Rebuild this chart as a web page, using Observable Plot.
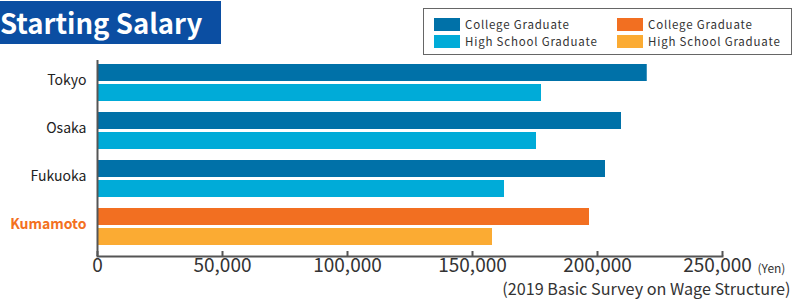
<!DOCTYPE html>
<html><head><meta charset="utf-8">
<script src="https://cdn.jsdelivr.net/npm/d3@7"></script>
<script src="https://cdn.jsdelivr.net/npm/@observablehq/plot@0.6"></script>
<style>
html,body{margin:0;padding:0;background:#fff;}
#wrap{position:relative;width:805px;height:307px;overflow:hidden;font-family:"Noto Sans CJK JP","Noto Sans",sans-serif;}
#chart{position:absolute;left:0;top:0;}
#title{position:absolute;left:0;top:1px;width:221px;height:43px;background:#0b4ea2;color:#fff;font-weight:700;font-size:27.5px;line-height:43px;white-space:nowrap;overflow:hidden;}
#title span{position:relative;left:0px;}
#legend{position:absolute;left:423px;top:8px;width:369px;height:47px;border:1px solid #666;box-sizing:border-box;}
.sw{position:absolute;width:26px;height:13px;}
.lt{position:absolute;font-size:11.5px;letter-spacing:0.8px;color:#333;line-height:13px;white-space:nowrap;}
</style></head>
<body>
<div id="wrap">
  <div id="chart"></div>
  <div id="title"><span>Starting Salary</span></div>
  <div id="legend"></div>
</div>
<script>
const cities = ["Tokyo", "Osaka", "Fukuoka", "Kumamoto"];
const collegeSalary = [219900, 209600, 203200, 196800];
const highSchoolSalary = [177600, 175600, 162800, 158000];
const xTicks = [0, 50000, 100000, 150000, 200000, 250000];
const legendLabels = ["College Graduate", "High School Graduate", "College Graduate", "High School Graduate"];
const titleText = "Starting Salary";
const unitText = "(Yen)";
const captionText = "(2019 Basic Survey on Wage Structure)";

const colors = {
  college: "#0071a8", high: "#00abd8",
  kCollege: "#f26f21", kHigh: "#fbab33",
  label: "#222222", kLabel: "#f37021", axis: "#555555"
};

const rows = cities.map((c, i) => ({
  city: c,
  college: collegeSalary[i],
  high: highSchoolSalary[i],
  local: c === "Kumamoto"
}));

const font = '"Noto Sans CJK JP","Noto Sans",sans-serif';
const fmt = d3.format(",");

const chart = Plot.plot({
  width: 805,
  height: 307,
  marginTop: 60,
  marginBottom: 51,
  marginLeft: 97,
  marginRight: 83,
  style: {fontFamily: font, background: "transparent", overflow: "visible"},
  color: {type: "identity"},
  x: {domain: [0, 250000], axis: null},
  y: {domain: cities, range: [64, 245], paddingInner: 11 / 48, paddingOuter: 0, axis: null},
  marks: [
    Plot.barX(rows, {x: "college", y: "city", fill: d => d.local ? colors.kCollege : colors.college, insetBottom: 20}),
    Plot.barX(rows, {x: "high", y: "city", fill: d => d.local ? colors.kHigh : colors.high, insetTop: 20}),
    Plot.ruleX([0], {stroke: colors.axis, strokeWidth: 2}),
    Plot.frame({anchor: "bottom", stroke: colors.axis, strokeWidth: 2}),
    Plot.ruleX(xTicks, {x: d => d, stroke: colors.axis, strokeWidth: 2, insetTop: 191}),
    Plot.text(xTicks.slice(0, -1), {x: d => d, frameAnchor: "bottom", dy: 15, text: d => fmt(d), fontSize: 19, fill: "#333"}),
    Plot.text(xTicks.slice(-1), {x: d => d, frameAnchor: "bottom", dy: 15, dx: -5, text: d => fmt(d), fontSize: 19, fill: "#333"}),
    Plot.text(rows.filter(d => !d.local), {y: "city", frameAnchor: "left", textAnchor: "end", dx: -11, dy: -2, text: "city",
      fill: colors.label, fontSize: 14, letterSpacing: 0.5}),
    Plot.text(rows.filter(d => d.local), {y: "city", frameAnchor: "left", textAnchor: "end", dx: -11, dy: -2, text: "city",
      fill: colors.kLabel, fontWeight: 700, fontSize: 14, letterSpacing: 0.5}),
    Plot.text([unitText], {frameAnchor: "bottom-right", textAnchor: "start", dx: 35, dy: 16, fontSize: 12, fill: "#333"}),
    Plot.text([captionText], {frameAnchor: "bottom-right", textAnchor: "end", dx: 68, dy: 38, fontSize: 16.2, fill: "#333"})
  ]
});
document.getElementById("chart").appendChild(chart);

// legend
const legend = document.getElementById("legend");
const legendColors = [colors.college, colors.high, colors.kCollege, colors.kHigh];
const pos = [[10, 9], [10, 26], [193, 9], [193, 26]];
legendLabels.forEach((t, i) => {
  const sw = document.createElement("div");
  sw.className = "sw";
  sw.style.left = pos[i][0] + "px";
  sw.style.top = pos[i][1] + "px";
  sw.style.background = legendColors[i];
  legend.appendChild(sw);
  const lt = document.createElement("div");
  lt.className = "lt";
  lt.style.left = (pos[i][0] + 31) + "px";
  lt.style.top = pos[i][1] + "px";
  lt.textContent = t;
  legend.appendChild(lt);
});
document.querySelector("#title span").textContent = titleText;
</script>
</body></html>
